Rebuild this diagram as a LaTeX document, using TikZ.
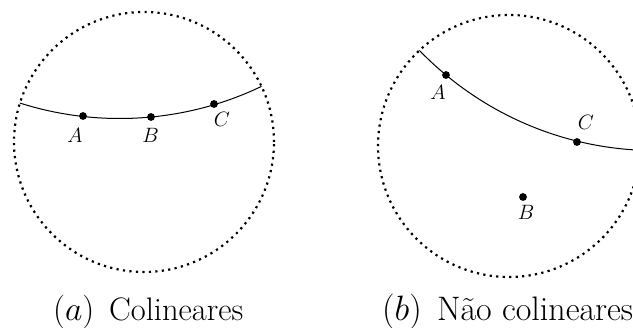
\documentclass[tikz,border=0pt]{standalone}
\usepackage{graphicx}
\begin{document}
\begin{tikzpicture}[x=1pt,y=-1pt,
  bnd/.style={line width=2.2pt, dash pattern=on 2.2pt off 4.3pt},
  geo/.style={line width=1pt},
  pt/.style={circle, fill=black, inner sep=0pt, minimum size=7.8pt},
  lbl/.style={inner sep=0pt, font=\fontsize{21}{25}\selectfont},
  captxt/.style={inner sep=0pt, font=\fontsize{20}{24}\selectfont, anchor=base west}]
\useasboundingbox (0,0) rectangle (633,328);
\clip (0,0) rectangle (633,328);
\coordinate (O1) at (144,142);
\coordinate (O2) at (509,146);
\coordinate (G1) at (119.7,-209.8);
\coordinate (G2) at (655.8,-178.4);
% left disk
\draw[bnd] (O1) circle (130pt);
\begin{scope}
  \clip (O1) circle (130pt);
  \draw[geo] (G1) circle (328.3pt);
\end{scope}
\node[pt] (A1) at (83,116) {};
\node[pt] (B1) at (151,117) {};
\node[pt] (C1) at (214,104) {};
\node[lbl] (lA1) at (75,135.5) {$A$};
\node[lbl] (lB1) at (150.5,135.5) {$B$};
\node[lbl] (lC1) at (222,119.5) {$C$};
% right disk
\draw[bnd] (O2) circle (131pt);
\begin{scope}
  \clip (O2) circle (131pt);
  \draw[geo] (G2) circle (329pt);
\end{scope}
\node[pt] (A2) at (446,75) {};
\node[pt] (C2) at (577,142) {};
\node[pt] (B2) at (523,197) {};
\node[lbl] (lA2) at (438,92.5) {$A$};
\node[lbl] (lC2) at (586,122.5) {$C$};
\node[lbl] (lB2) at (526,212.5) {$B$};
% captions
\node[captxt] (cap1) at (53,320.5) {\resizebox{190pt}{!}{$(a)$\hspace{0.45em}Colineares}};
\node[captxt] (cap2) at (382,320.5) {\resizebox{251pt}{!}{$(b)$\hspace{0.45em}Não colineares}};
\end{tikzpicture}
\end{document}
